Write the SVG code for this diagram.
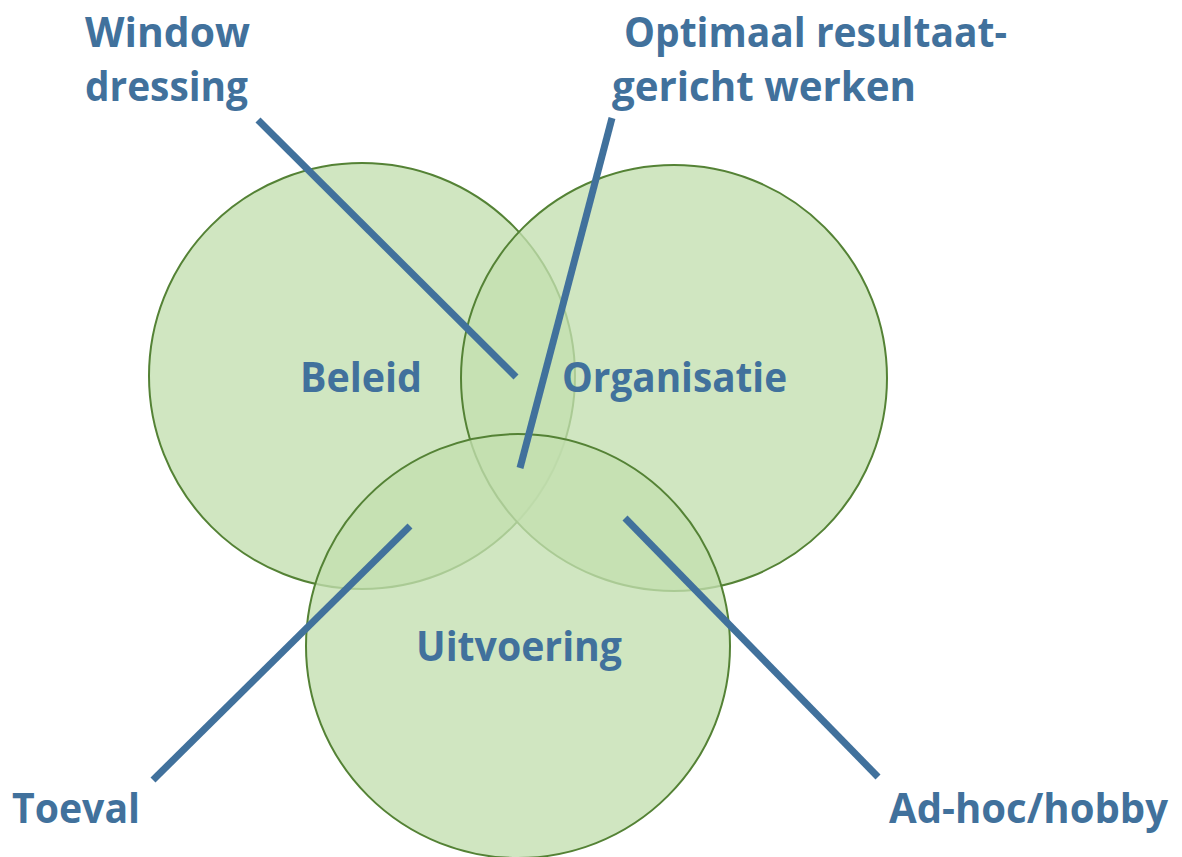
<svg xmlns="http://www.w3.org/2000/svg" width="1182" height="857" viewBox="0 0 1182 857">
<style>
.c{fill:#c3dfb0;fill-opacity:0.78;stroke:#548235;stroke-width:2}
.t{font-family:"Open Sans","Liberation Sans",sans-serif;font-weight:bold;font-size:42px;fill:#41719c}
.l{stroke:#41719c;stroke-width:7;fill:none}
</style>
<rect width="1182" height="857" fill="#ffffff"/>
<g id="beleid"><circle class="c" cx="362" cy="376" r="213"/><text class="t" x="300" y="392" textLength="122" lengthAdjust="spacingAndGlyphs">Beleid</text></g>
<g id="organisatie"><circle class="c" cx="674" cy="378" r="213"/><text class="t" x="562" y="392" textLength="225" lengthAdjust="spacingAndGlyphs">Organisatie</text></g>
<g id="uitvoering"><circle class="c" cx="518" cy="646" r="212"/><text class="t" x="416" y="661" textLength="206" lengthAdjust="spacingAndGlyphs">Uitvoering</text></g>
<g id="connectors">
<line class="l" x1="258" y1="120" x2="516" y2="377"/>
<line class="l" x1="612" y1="118" x2="520" y2="468"/>
<line class="l" x1="410" y1="526" x2="153" y2="780"/>
<line class="l" x1="625" y1="518" x2="878" y2="777"/>
</g>
<g id="window-dressing"><text class="t" x="85" y="47" textLength="165" lengthAdjust="spacingAndGlyphs">Window</text><text class="t" x="85" y="101" textLength="163" lengthAdjust="spacingAndGlyphs">dressing</text></g>
<g id="optimaal"><text class="t" x="624" y="47" textLength="383" lengthAdjust="spacingAndGlyphs">Optimaal resultaat-</text><text class="t" x="612" y="101" textLength="304" lengthAdjust="spacingAndGlyphs">gericht werken</text></g>
<g id="toeval"><text class="t" x="12" y="823" textLength="128" lengthAdjust="spacingAndGlyphs">Toeval</text></g>
<g id="adhoc"><text class="t" x="889" y="823" textLength="279" lengthAdjust="spacingAndGlyphs">Ad-hoc/hobby</text></g>
</svg>
